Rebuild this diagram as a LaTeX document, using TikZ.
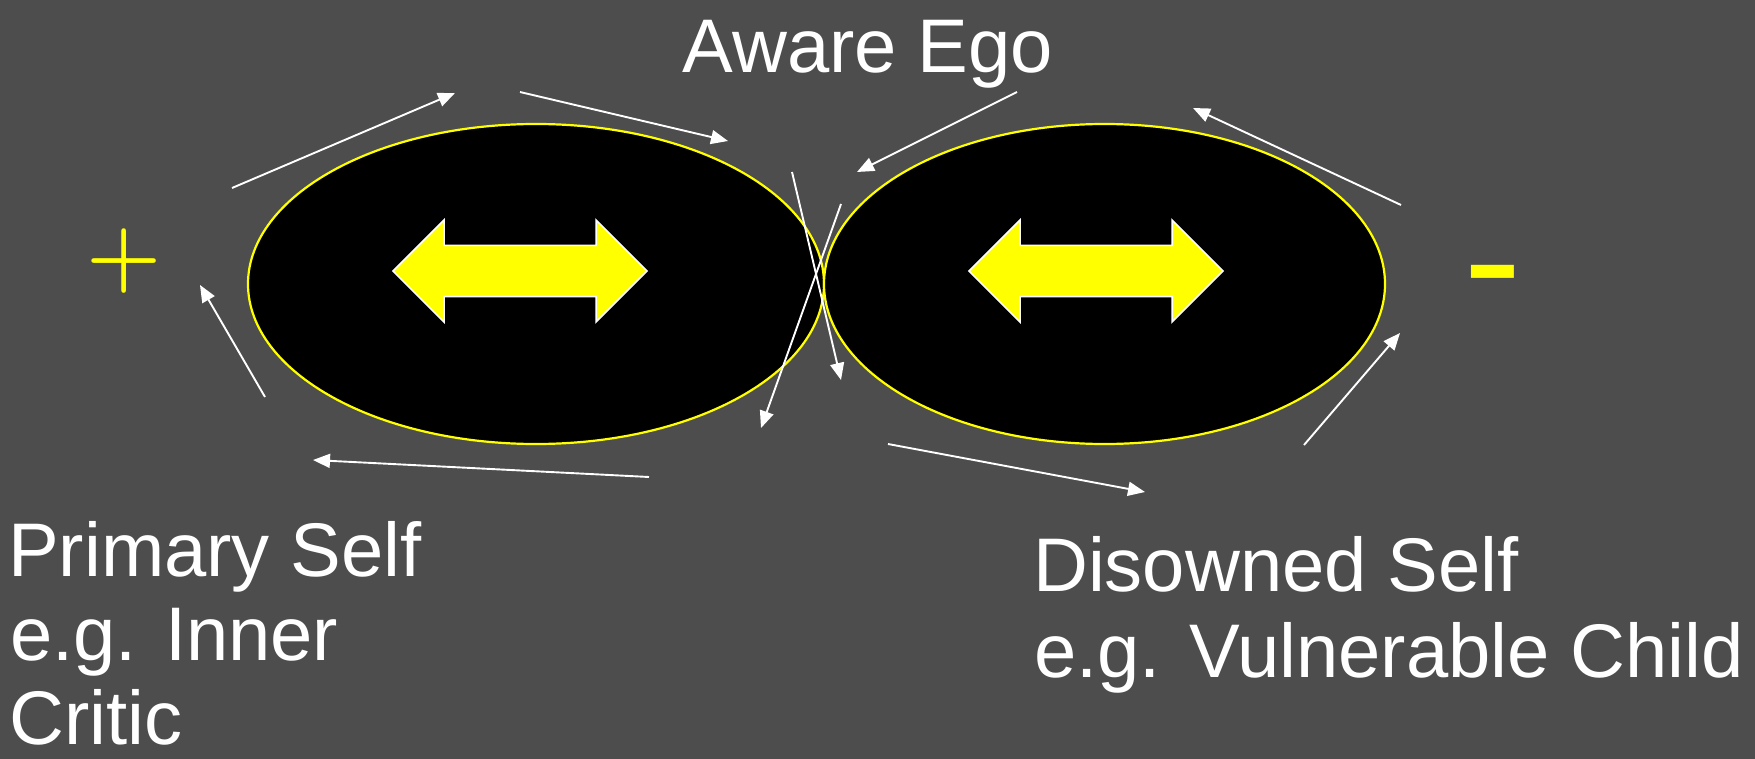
\documentclass[tikz,border=0pt]{standalone}
\usepackage{fontspec}
\setsansfont{Liberation Sans}
\newfontfamily\dashfont{DejaVu Sans}
\usetikzlibrary{shapes.geometric,arrows.meta}
\definecolor{slide}{RGB}{77,77,77}
\definecolor{hot}{RGB}{255,255,0}
\tikzstyle{self}=[ellipse,draw=hot,line width=2.2pt,fill=black,inner sep=0pt,minimum height=320pt]
\tikzstyle{lbl}=[text=white,inner sep=0pt,anchor=base west,font=\sffamily\fontsize{76}{84}\selectfont]
\tikzstyle{sign}=[text=hot,inner sep=0pt,anchor=base]
\tikzstyle{flow}=[-{Triangle[length=17pt,width=14pt]},white,line width=1.9pt]
\tikzstyle{swing}=[fill=hot,draw=white,line width=1.5pt,line join=miter]
\newcommand{\swingarrow}[1]{\draw[swing] (#1) ++(-127,0) -- ++(51,-51) -- ++(0,25.5) -- ++(152,0) -- ++(0,-25.5) -- ++(51,51) -- ++(-51,51) -- ++(0,-25.5) -- ++(-152,0) -- ++(0,25.5) -- cycle;}

\begin{document}
\begin{tikzpicture}[x=1pt,y=-1pt]
\useasboundingbox[fill=slide] (0,0) rectangle (1755,759);
% the two selves
\node[self, minimum width=576pt] (prim) at (536,284) {};
\node[self, minimum width=561pt] (dis) at (1104.5,284) {};
\coordinate (primc) at (520,271);
\coordinate (disc) at (1096,271);
\swingarrow{primc}
\swingarrow{disc}
% signs
\node[sign, font=\rmfamily\bfseries\fontsize{86}{86}\selectfont] (plus) at (124.5,282) {+};
\node[sign, font=\dashfont\fontsize{163}{163}\selectfont] (minus) at (1493,316.5) {-};
% labels
\node[lbl, anchor=base] (aware) at (868,73) {Aware Ego};
\node[lbl] (prim1) at (8,576) {Primary Self};
\node[lbl] (prim2) at (10,660) {e.g. Inner};
\node[lbl] (prim3) at (9,744) {Critic};
\node[lbl] (dis1) at (1033,591) {Disowned Self};
\node[lbl] (dis2) at (1034,677) {e.g. Vulnerable Child};
% flow round the ellipses
\coordinate (f1a) at (232,188);  \coordinate (f1b) at (455,93);
\coordinate (f2a) at (520,92);   \coordinate (f2b) at (728,141);
\coordinate (f3a) at (1017,92);  \coordinate (f3b) at (857,172);
\coordinate (f4a) at (1401,205); \coordinate (f4b) at (1193,108);
\coordinate (f5a) at (1304,445); \coordinate (f5b) at (1400,333);
\coordinate (f6a) at (888,444);  \coordinate (f6b) at (1145,492);
\coordinate (f7a) at (649,477);  \coordinate (f7b) at (313,460);
\coordinate (f8a) at (265,397);  \coordinate (f8b) at (200,285);
\coordinate (f9a) at (792,172);  \coordinate (f9b) at (841,380);
\coordinate (f10a) at (841,204); \coordinate (f10b) at (761,428);
\draw[flow] (f1a) -- (f1b);
\draw[flow] (f2a) -- (f2b);
\draw[flow] (f3a) -- (f3b);
\draw[flow] (f4a) -- (f4b);
\draw[flow] (f5a) -- (f5b);
\draw[flow] (f6a) -- (f6b);
\draw[flow] (f7a) -- (f7b);
\draw[flow] (f8a) -- (f8b);
\draw[flow] (f9a) -- (f9b);
\draw[flow] (f10a) -- (f10b);
\end{tikzpicture}
\end{document}
